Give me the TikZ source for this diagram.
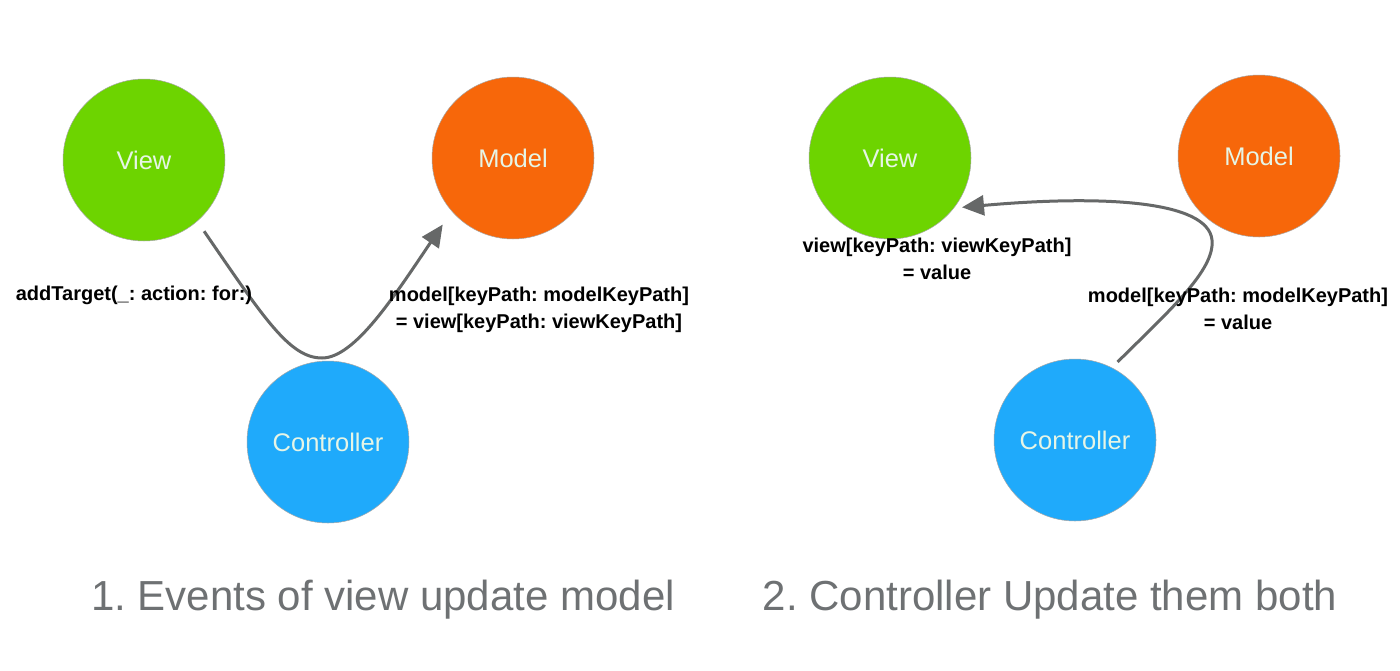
\documentclass[tikz,border=0pt]{standalone}
\usepackage{fontspec}
\setmainfont{Liberation Sans}
\usetikzlibrary{arrows.meta}
\definecolor{cgreen}{HTML}{6DD400}
\definecolor{corange}{HTML}{F7670A}
\definecolor{cblue}{HTML}{1FAAFB}
\definecolor{cline}{HTML}{666868}
\definecolor{ctitle}{HTML}{6E7173}
\definecolor{ctext}{HTML}{E6F5E6}
\frenchspacing
\begin{document}
\begin{tikzpicture}[x=1pt,y=-1pt,
  ball/.style={circle,minimum size=162pt,inner sep=0pt,draw=gray!70,line width=0.5pt,
    text=ctext,font=\fontsize{25.5}{30}\selectfont},
  lbl/.style={align=center,font=\bfseries\fontsize{20}{27}\selectfont,text=black},
  ttl/.style={text=ctitle,font=\fontsize{42}{46}\selectfont},
  conn/.style={draw=cline,line width=3pt,-{Triangle[length=22pt,width=20pt]}}]
\useasboundingbox (0,0) rectangle (1400,670);
\fill[white] (0,0) rectangle (1400,670);
% left diagram
\node[ball,fill=cgreen] (V1) at (144,160) {View};
\node[ball,fill=corange] (M1) at (513,158) {Model};
\node[ball,fill=cblue] (C1) at (328,442) {Controller};
\draw[conn,shorten <=12pt,shorten >=16pt] (V1.-49) .. controls (265,320) and (290,358) .. (322,358)
  .. controls (355,358) and (395,295) .. (M1.221);
\node[lbl] (L1) at (134,295) {addTarget(\_: action: for:)};
\node[lbl] (L2) at (539,310) {model[keyPath: modelKeyPath]\\= view[keyPath: viewKeyPath]};
\node[ttl] (T1) at (383,600) {1. Events of view update model};
% right diagram
\node[ball,fill=cgreen] (V2) at (890,158) {View};
\node[ball,fill=corange] (M2) at (1259,156) {Model};
\node[ball,fill=cblue] (C2) at (1075,440) {Controller};
\draw[conn,shorten <=8pt,shorten >=8pt] (C2.63) .. controls (1170,310) and (1215,270) .. (1212,240)
  .. controls (1208,200) and (1100,195) .. (V2.-38);
\node[lbl] (L3) at (937,259) {view[keyPath: viewKeyPath]\\= value};
\node[lbl] (L4) at (1238,309) {model[keyPath: modelKeyPath]\\= value};
\node[ttl] (T2) at (1050,600) {2. Controller Update them both};
\end{tikzpicture}
\end{document}
